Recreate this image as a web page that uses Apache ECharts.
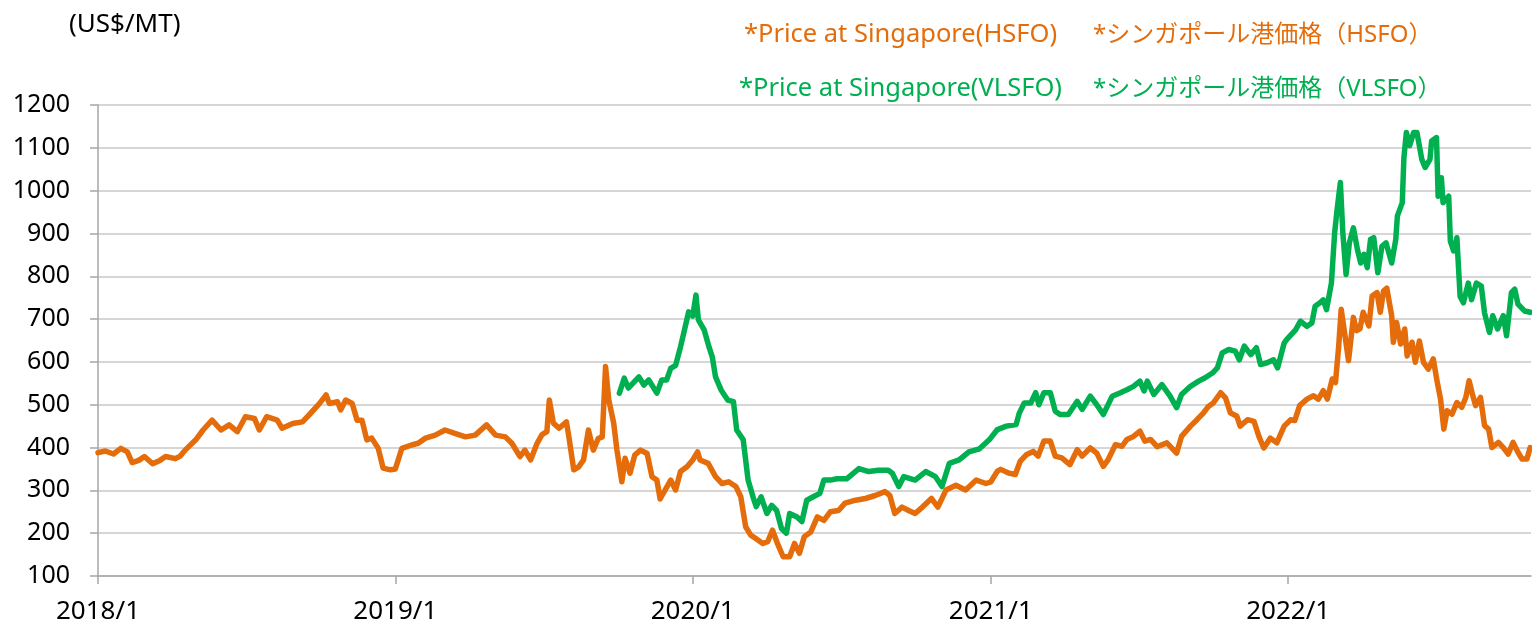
<!DOCTYPE html>
<html>
<head>
<meta charset="utf-8">
<title>Singapore bunker prices</title>
<script src="https://cdn.jsdelivr.net/npm/echarts@6/dist/echarts.min.js"></script>
<style>
  html, body { margin: 0; padding: 0; background: #fff; }
  #chart { width: 1532px; height: 631px; }
</style>
</head>
<body>
<div id="chart"></div>
<script>
// values (US$/MT)
const hsfoDates = [
  '2018-01-01','2018-01-10','2018-01-20','2018-01-29','2018-02-06','2018-02-12','2018-02-20','2018-02-27',
  '2018-03-09','2018-03-18','2018-03-25','2018-04-06','2018-04-12','2018-04-18','2018-05-01','2018-05-10',
  '2018-05-21','2018-06-01','2018-06-11','2018-06-21','2018-07-01','2018-07-12','2018-07-18','2018-07-27',
  '2018-08-09','2018-08-15','2018-08-28','2018-09-09','2018-09-17','2018-09-30','2018-10-08','2018-10-12',
  '2018-10-22','2018-10-26','2018-11-01','2018-11-09','2018-11-15','2018-11-21','2018-11-27','2018-12-03',
  '2018-12-11','2018-12-17','2018-12-26',
  '2019-01-01','2019-01-09','2019-01-21','2019-01-29','2019-02-07','2019-02-19','2019-03-03','2019-03-15',
  '2019-03-28','2019-04-09','2019-04-23','2019-05-04','2019-05-16','2019-05-24','2019-06-03','2019-06-09',
  '2019-06-16','2019-06-24','2019-06-30','2019-07-06','2019-07-09','2019-07-14','2019-07-21','2019-07-30',
  '2019-08-02','2019-08-08','2019-08-14','2019-08-20','2019-08-26','2019-09-01','2019-09-07','2019-09-12',
  '2019-09-16','2019-09-20','2019-09-26','2019-09-30','2019-10-06','2019-10-10','2019-10-16','2019-10-22',
  '2019-10-29','2019-11-06','2019-11-12','2019-11-18','2019-11-22','2019-12-05','2019-12-11','2019-12-17',
  '2019-12-25',
  '2020-01-01','2020-01-07','2020-01-10','2020-01-20','2020-01-29','2020-02-06','2020-02-14','2020-02-23',
  '2020-02-29','2020-03-06','2020-03-12','2020-03-18','2020-03-27','2020-04-02','2020-04-08','2020-04-14',
  '2020-04-21','2020-04-29','2020-05-05','2020-05-11','2020-05-17','2020-05-25','2020-06-02','2020-06-10',
  '2020-06-18','2020-06-28','2020-07-06','2020-07-19','2020-07-31','2020-08-12','2020-08-24','2020-08-30',
  '2020-09-05','2020-09-14','2020-09-22','2020-09-30','2020-10-09','2020-10-20','2020-10-28','2020-11-07',
  '2020-11-19','2020-12-01','2020-12-14','2020-12-26',
  '2021-01-01','2021-01-09','2021-01-13','2021-01-22','2021-01-31','2021-02-06','2021-02-14','2021-02-22',
  '2021-02-28','2021-03-07','2021-03-15','2021-03-21','2021-03-29','2021-04-08','2021-04-17','2021-04-23',
  '2021-05-03','2021-05-11','2021-05-19','2021-05-25','2021-06-03','2021-06-11','2021-06-17','2021-06-25',
  '2021-07-03','2021-07-09','2021-07-16','2021-07-24','2021-08-05','2021-08-17','2021-08-23','2021-09-03',
  '2021-09-11','2021-09-19','2021-09-25','2021-10-01','2021-10-10','2021-10-16','2021-10-22','2021-10-30',
  '2021-11-03','2021-11-12','2021-11-20','2021-11-26','2021-12-02','2021-12-10','2021-12-18','2021-12-27',
  '2022-01-04','2022-01-09','2022-01-15','2022-01-24','2022-02-01','2022-02-07','2022-02-13','2022-02-18',
  '2022-02-24','2022-02-28','2022-03-04','2022-03-07','2022-03-12','2022-03-16','2022-03-22','2022-03-26',
  '2022-03-30','2022-04-03','2022-04-10','2022-04-14','2022-04-20','2022-04-24','2022-04-28','2022-05-02',
  '2022-05-08','2022-05-10','2022-05-14','2022-05-19','2022-05-24','2022-05-27','2022-06-02','2022-06-06',
  '2022-06-11','2022-06-16','2022-06-22','2022-06-28','2022-07-03','2022-07-07','2022-07-11','2022-07-15',
  '2022-07-21','2022-07-27','2022-08-02','2022-08-07','2022-08-11','2022-08-15','2022-08-19','2022-08-25',
  '2022-08-30','2022-09-04','2022-09-08','2022-09-16','2022-09-22','2022-09-28','2022-10-04','2022-10-10',
  '2022-10-15','2022-10-21','2022-10-25'
];
const hsfoValues = [
  388, 392, 385, 398, 390, 365, 370, 379,
  362, 370, 379, 374, 380, 394, 418, 441,
  464, 441, 453, 437, 472, 468, 441, 472,
  464, 445, 456, 460, 476, 503, 523, 503,
  507, 488, 511, 503, 464, 464, 418, 422,
  398, 352, 348,
  350, 398, 406, 410, 422, 429, 441, 433,
  425, 429, 453, 429, 425, 410, 379, 394,
  371, 410, 430, 437, 511, 457, 445, 460,
  425, 348, 355, 371, 441, 394, 421, 425,
  589, 511, 457, 394, 320, 375, 340, 383,
  394, 386, 332, 324, 280, 324, 301, 344,
  355,
  371, 390, 371, 363, 332, 316, 320, 309,
  285, 215, 196, 188, 176, 180, 207, 176,
  145, 145, 176, 153, 192, 203, 238, 230,
  250, 253, 270, 277, 281, 288, 297, 288,
  246, 261, 253, 246, 261, 281, 261, 301,
  312, 301, 324, 316,
  320, 345, 349, 341, 337, 368, 384, 391,
  380, 415, 415, 380, 376, 360, 395, 380,
  399, 387, 356, 372, 407, 403, 419, 426,
  438, 415, 419, 402, 411, 387, 426, 450,
  465, 481, 496, 504, 528, 516, 481, 473,
  450, 465, 461, 426, 399, 422, 411, 450,
  465, 463, 498, 513, 521, 513, 533, 513,
  560, 552, 638, 723, 657, 603, 704, 673,
  677, 716, 684, 754, 762, 716, 766, 772,
  708, 646, 692, 642, 677, 614, 646, 599,
  649, 599, 583, 607, 552, 513, 443, 486,
  478, 505, 494, 517, 556, 525, 498, 517,
  451, 443, 400, 412, 400, 385, 412, 389,
  373, 373, 400
];

const vlsfoDates = [
  '2019-10-03','2019-10-09','2019-10-14','2019-10-27','2019-11-02','2019-11-08','2019-11-18','2019-11-24',
  '2019-11-30','2019-12-05','2019-12-11','2019-12-17','2019-12-21','2019-12-27',
  '2020-01-01','2020-01-05','2020-01-08','2020-01-15','2020-01-21','2020-01-25','2020-01-29','2020-02-05',
  '2020-02-13','2020-02-20','2020-02-24','2020-03-03','2020-03-09','2020-03-15','2020-03-19','2020-03-25',
  '2020-04-01','2020-04-07','2020-04-13','2020-04-19','2020-04-25','2020-04-29','2020-05-08','2020-05-14',
  '2020-05-20','2020-05-28','2020-06-05','2020-06-10','2020-06-18','2020-06-26','2020-07-08','2020-07-23',
  '2020-08-04','2020-08-16','2020-08-28','2020-09-02','2020-09-10','2020-09-16','2020-09-30','2020-10-13',
  '2020-10-25','2020-11-02','2020-11-11','2020-11-23','2020-12-05','2020-12-18','2020-12-30',
  '2021-01-09','2021-01-20','2021-02-01','2021-02-05','2021-02-11','2021-02-19','2021-02-25','2021-03-01',
  '2021-03-07','2021-03-15','2021-03-21','2021-03-27','2021-04-06','2021-04-17','2021-04-23','2021-05-03',
  '2021-05-11','2021-05-19','2021-05-30','2021-06-09','2021-06-17','2021-06-25','2021-07-03','2021-07-08',
  '2021-07-12','2021-07-20','2021-07-30','2021-08-09','2021-08-17','2021-08-23','2021-09-03','2021-09-13',
  '2021-09-21','2021-09-30','2021-10-06','2021-10-12','2021-10-20','2021-10-28','2021-11-02','2021-11-08',
  '2021-11-16','2021-11-23','2021-11-28','2021-12-06','2021-12-14','2021-12-19','2021-12-27','2021-12-30',
  '2022-01-10','2022-01-16','2022-01-24','2022-01-30','2022-02-03','2022-02-09','2022-02-13','2022-02-17',
  '2022-02-23','2022-02-27','2022-03-02','2022-03-06','2022-03-09','2022-03-13','2022-03-17','2022-03-22',
  '2022-03-27','2022-03-31','2022-04-04','2022-04-08','2022-04-12','2022-04-16','2022-04-21','2022-04-26',
  '2022-05-01','2022-05-08','2022-05-13','2022-05-15','2022-05-21','2022-05-23','2022-05-26','2022-05-30',
  '2022-06-04','2022-06-08','2022-06-14','2022-06-18','2022-06-24','2022-06-26','2022-07-02','2022-07-04',
  '2022-07-08','2022-07-10','2022-07-17','2022-07-19','2022-07-23','2022-07-27','2022-07-31','2022-08-04',
  '2022-08-10','2022-08-14','2022-08-20','2022-08-26','2022-08-30','2022-09-05','2022-09-09','2022-09-15',
  '2022-09-22','2022-09-26','2022-10-02','2022-10-06','2022-10-10','2022-10-18','2022-10-25'
];
const vlsfoValues = [
  527, 562, 539, 565, 546, 558, 527, 558,
  558, 585, 592, 635, 667, 717,
  707, 756, 698, 675, 635, 612, 565, 534,
  511, 507, 441, 418, 324, 285, 262, 285,
  246, 265, 253, 211, 200, 246, 238, 227,
  277, 285, 293, 324, 324, 327, 327, 351,
  344, 347, 347, 340, 309, 332, 324, 344,
  332, 309, 363, 371, 390, 397, 418,
  442, 450, 454, 481, 504, 504, 528, 500,
  528, 528, 485, 477, 477, 508, 489, 520,
  500, 477, 520, 528, 535, 543, 555, 532,
  555, 524, 547, 520, 493, 524, 543, 555,
  563, 574, 586, 621, 629, 625, 605, 637,
  617, 633, 594, 598, 605, 586, 644, 652,
  675, 695, 683, 691, 730, 738, 745, 722,
  784, 902, 956, 1019, 902, 804, 878, 913,
  862, 831, 851, 820, 886, 890, 808, 870,
  878, 831, 886, 941, 972, 1077, 1136, 1105,
  1136, 1136, 1073, 1054, 1073, 1116, 1124, 987,
  1030, 972, 987, 882, 859, 890, 753, 738,
  784, 745, 784, 777, 714, 669, 708, 677,
  708, 661, 762, 770, 735, 719, 716
];

const seriesNames = ['*Price at Singapore(HSFO)', '*Price at Singapore(VLSFO)'];
const seriesNamesJa = ['*シンガポール港価格（HSFO）', '*シンガポール港価格（VLSFO）'];
const seriesColors = ['#E46C0A', '#00B050'];

const FONT = '"Noto Sans", "Noto Sans CJK JP", sans-serif';
const DAY = 24 * 3600 * 1000;

const zip = (dates, values) => dates.map((d, i) => [d, values[i]]);

const chart = echarts.init(document.getElementById('chart'));

chart.setOption({
  animation: false,
  textStyle: { fontFamily: FONT },
  title: {
    text: '(US$/MT)',
    left: 64,
    top: 7,
    textStyle: { fontFamily: FONT, fontSize: 26, fontWeight: 'normal', color: '#000' }
  },
  legend: {
    orient: 'vertical',
    left: 728,
    top: 15,
    icon: 'none',
    itemWidth: 0,
    itemHeight: 30,
    itemGap: 26,
    selectedMode: false,
    data: seriesNames.map((n, i) => ({ name: n, textStyle: { color: seriesColors[i] } })),
    formatter: name => {
      const i = seriesNames.indexOf(name);
      return '{en|' + name + '}{ja|' + seriesNamesJa[i] + '}';
    },
    textStyle: {
      fontFamily: FONT,
      fontSize: 25,
      rich: {
        en: { width: 325, align: 'right', fontSize: 25.5, fontFamily: FONT },
        ja: { padding: [0, 0, 0, 30], fontSize: 24, fontFamily: FONT }
      }
    }
  },
  grid: { left: 98, right: 1, top: 105, bottom: 55 },
  xAxis: {
    type: 'time',
    min: '2018-01-01',
    max: '2022-10-26',
    minInterval: 365 * DAY,
    maxInterval: 366 * DAY,
    axisLine: { show: true, lineStyle: { color: '#A6A6A6', width: 1.5 } },
    axisTick: { show: true, length: 8, lineStyle: { color: '#A6A6A6', width: 1.5 } },
    axisLabel: {
      margin: 23,
      fontSize: 26,
      color: '#000',
      fontFamily: FONT,
      formatter: v => {
        const d = new Date(v);
        return d.getFullYear() + '/' + (d.getMonth() + 1);
      }
    },
    splitLine: { show: false }
  },
  yAxis: {
    type: 'value',
    min: 100,
    max: 1200,
    interval: 100,
    axisLine: { show: true, lineStyle: { color: '#A6A6A6', width: 1.5 } },
    axisTick: { show: true, length: 8, lineStyle: { color: '#A6A6A6', width: 1.5 } },
    axisLabel: { margin: 28, fontSize: 25, color: '#000', fontFamily: FONT, formatter: v => String(v) },
    splitLine: { show: true, lineStyle: { color: '#C8C8C8', width: 1.5 } }
  },
  series: [
    {
      name: seriesNames[0],
      type: 'line',
      data: zip(hsfoDates, hsfoValues),
      showSymbol: false,
      lineStyle: { color: seriesColors[0], width: 5.5, cap: 'round', join: 'round' },
      itemStyle: { color: seriesColors[0] }
    },
    {
      name: seriesNames[1],
      type: 'line',
      data: zip(vlsfoDates, vlsfoValues),
      showSymbol: false,
      lineStyle: { color: seriesColors[1], width: 5.5, cap: 'round', join: 'round' },
      itemStyle: { color: seriesColors[1] }
    }
  ]
});

window.addEventListener('resize', () => chart.resize());
</script>
</body>
</html>
